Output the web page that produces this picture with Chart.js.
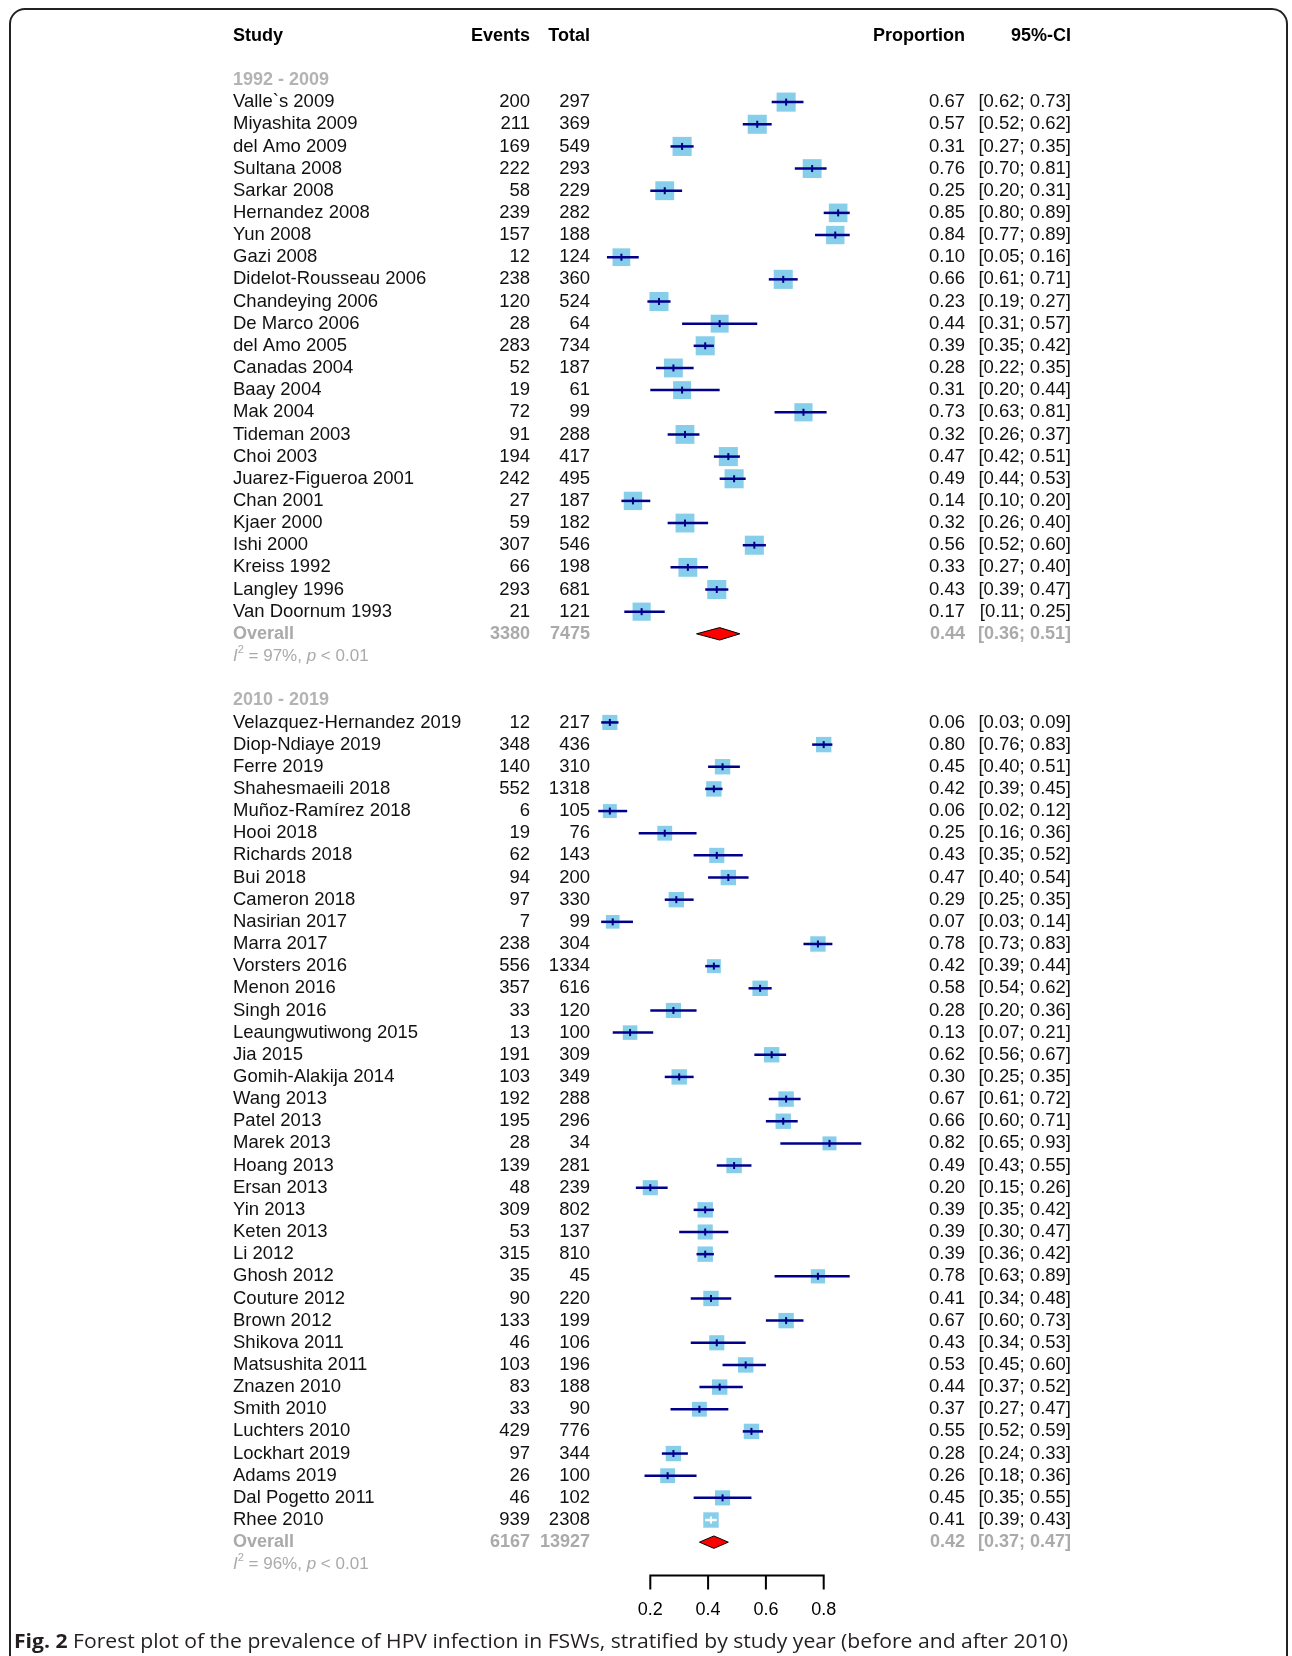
<!DOCTYPE html>
<html>
<head>
<meta charset="utf-8">
<title>Forest plot</title>
<script src="https://cdn.jsdelivr.net/npm/chart.js@4.4.0/dist/chart.umd.min.js"></script>
<style>
  html, body { margin: 0; padding: 0; background: #fff; }
  #wrap { position: relative; width: 1292px; height: 1656px; overflow: hidden; }
  #forest { position: absolute; left: 0; top: 0; }
  #frame { position: absolute; left: 9px; top: 8px; width: 1275px; height: 1720px; border: 2px solid #222; border-radius: 16px; pointer-events: none; }
  #caption { position: absolute; left: 14px; top: 1628px; display: inline-block; font-family: 'Open Sans', sans-serif; font-size: 20px; line-height: 26px; color: #231f20; white-space: nowrap; transform-origin: 0 50%; }
</style>
</head>
<body>
<div id="wrap">
  <canvas id="forest" width="1292" height="1656"></canvas>
  <div id="frame"></div>
  <div id="caption"><b>Fig. 2</b> Forest plot of the prevalence of HPV infection in FSWs, stratified by study year (before and after 2010)</div>
</div>
<script>
// ---- data: 1992 - 2009
const studies1 = ['Valle`s 2009', 'Miyashita 2009', 'del Amo 2009', 'Sultana 2008', 'Sarkar 2008', 'Hernandez 2008',
  'Yun 2008', 'Gazi 2008', 'Didelot-Rousseau 2006', 'Chandeying 2006', 'De Marco 2006', 'del Amo 2005',
  'Canadas 2004', 'Baay 2004', 'Mak 2004', 'Tideman 2003', 'Choi 2003', 'Juarez-Figueroa 2001',
  'Chan 2001', 'Kjaer 2000', 'Ishi 2000', 'Kreiss 1992', 'Langley 1996', 'Van Doornum 1993'];
const events1 = [200, 211, 169, 222, 58, 239, 157, 12, 238, 120, 28, 283, 52, 19, 72, 91, 194, 242, 27, 59, 307, 66, 293, 21];
const totals1 = [297, 369, 549, 293, 229, 282, 188, 124, 360, 524, 64, 734, 187, 61, 99, 288, 417, 495, 187, 182, 546, 198, 681, 121];
const prop1 = [0.67, 0.57, 0.31, 0.76, 0.25, 0.85, 0.84, 0.10, 0.66, 0.23, 0.44, 0.39, 0.28, 0.31, 0.73, 0.32, 0.47, 0.49, 0.14, 0.32, 0.56, 0.33, 0.43, 0.17];
const lower1 = [0.62, 0.52, 0.27, 0.70, 0.20, 0.80, 0.77, 0.05, 0.61, 0.19, 0.31, 0.35, 0.22, 0.20, 0.63, 0.26, 0.42, 0.44, 0.10, 0.26, 0.52, 0.27, 0.39, 0.11];
const upper1 = [0.73, 0.62, 0.35, 0.81, 0.31, 0.89, 0.89, 0.16, 0.71, 0.27, 0.57, 0.42, 0.35, 0.44, 0.81, 0.37, 0.51, 0.53, 0.20, 0.40, 0.60, 0.40, 0.47, 0.25];
const weight1 = [4.3, 4.3, 4.3, 4.2, 4.2, 4.1, 4.0, 3.7, 4.3, 4.3, 3.8, 4.3, 4.2, 3.8, 3.9, 4.2, 4.3, 4.3, 4.0, 4.2, 4.3, 4.2, 4.3, 3.9];

// ---- data: 2010 - 2019
const studies2 = ['Velazquez-Hernandez 2019', 'Diop-Ndiaye 2019', 'Ferre 2019', 'Shahesmaeili 2018', 'Muñoz-Ramírez 2018',
  'Hooi 2018', 'Richards 2018', 'Bui 2018', 'Cameron 2018', 'Nasirian 2017', 'Marra 2017', 'Vorsters 2016',
  'Menon 2016', 'Singh 2016', 'Leaungwutiwong 2015', 'Jia 2015', 'Gomih-Alakija 2014', 'Wang 2013', 'Patel 2013',
  'Marek 2013', 'Hoang 2013', 'Ersan 2013', 'Yin 2013', 'Keten 2013', 'Li 2012', 'Ghosh 2012', 'Couture 2012',
  'Brown 2012', 'Shikova 2011', 'Matsushita 2011', 'Znazen 2010', 'Smith 2010', 'Luchters 2010', 'Lockhart 2019',
  'Adams 2019', 'Dal Pogetto 2011', 'Rhee 2010'];
const events2 = [12, 348, 140, 552, 6, 19, 62, 94, 97, 7, 238, 556, 357, 33, 13, 191, 103, 192, 195, 28, 139, 48, 309, 53,
  315, 35, 90, 133, 46, 103, 83, 33, 429, 97, 26, 46, 939];
const totals2 = [217, 436, 310, 1318, 105, 76, 143, 200, 330, 99, 304, 1334, 616, 120, 100, 309, 349, 288, 296, 34, 281,
  239, 802, 137, 810, 45, 220, 199, 106, 196, 188, 90, 776, 344, 100, 102, 2308];
const prop2 = [0.06, 0.80, 0.45, 0.42, 0.06, 0.25, 0.43, 0.47, 0.29, 0.07, 0.78, 0.42, 0.58, 0.28, 0.13, 0.62, 0.30, 0.67,
  0.66, 0.82, 0.49, 0.20, 0.39, 0.39, 0.39, 0.78, 0.41, 0.67, 0.43, 0.53, 0.44, 0.37, 0.55, 0.28, 0.26, 0.45, 0.41];
const lower2 = [0.03, 0.76, 0.40, 0.39, 0.02, 0.16, 0.35, 0.40, 0.25, 0.03, 0.73, 0.39, 0.54, 0.20, 0.07, 0.56, 0.25, 0.61,
  0.60, 0.65, 0.43, 0.15, 0.35, 0.30, 0.36, 0.63, 0.34, 0.60, 0.34, 0.45, 0.37, 0.27, 0.52, 0.24, 0.18, 0.35, 0.39];
const upper2 = [0.09, 0.83, 0.51, 0.45, 0.12, 0.36, 0.52, 0.54, 0.35, 0.14, 0.83, 0.44, 0.62, 0.36, 0.21, 0.67, 0.35, 0.72,
  0.71, 0.93, 0.55, 0.26, 0.42, 0.47, 0.42, 0.89, 0.48, 0.73, 0.53, 0.60, 0.52, 0.47, 0.59, 0.33, 0.36, 0.55, 0.43];
const weight2 = [2.7, 2.8, 2.8, 2.8, 2.3, 2.6, 2.7, 2.8, 2.8, 2.2, 2.8, 2.3, 2.8, 2.7, 2.5, 2.8, 2.8, 2.8, 2.8, 2.3, 2.8,
  2.7, 2.8, 2.7, 2.8, 2.4, 2.8, 2.8, 2.7, 2.8, 2.8, 2.6, 2.8, 2.8, 2.6, 2.7, 2.8];

// ---- subgroup summaries
const groupLabels = ['1992 - 2009', '2010 - 2019'];
const overallEvents = [3380, 6167];
const overallTotals = [7475, 13927];
const overallProp = [0.44, 0.42];
const overallLower = [0.36, 0.37];
const overallUpper = [0.51, 0.47];
const hetI2 = ['97%', '96%'];
const hetP = ['< 0.01', '< 0.01'];

const axisTicks = [0.2, 0.4, 0.6, 0.8];

// ---- layout / style constants
const FONT = '"Liberation Sans", Arial, Helvetica, sans-serif';
const NAVY = '#00008B';
const SQUARE = '#87CEEB';
const GREY = '#aaaaaa';
const COL_STUDY = 233, COL_EVENTS = 530, COL_TOTAL = 590, COL_PROP = 965, COL_CI = 1071;
const DIAMOND_H = 0.28;
const AXIS_ROW = 69.5;
const sideOf = w => 9.2 * Math.sqrt(w);

// build rows
const groups = [
  { studies: studies1, events: events1, totals: totals1, prop: prop1, lower: lower1, upper: upper1, weight: weight1 },
  { studies: studies2, events: events2, totals: totals2, prop: prop2, lower: lower2, upper: upper2, weight: weight2 }
];

const textRows = [];
const squarePts = [];
const ciPts = [];
const diamonds = [];
let r = 2;
groups.forEach((g, gi) => {
  textRows.push({ kind: 'group', row: r, label: groupLabels[gi] });
  r++;
  g.studies.forEach((name, i) => {
    const pt = { x: g.prop[i], y: r, lo: g.lower[i], hi: g.upper[i], w: g.weight[i] };
    squarePts.push(pt);
    ciPts.push({ x: g.lower[i], y: r, ref: pt }, { x: g.upper[i], y: r, ref: pt }, { x: NaN, y: null, ref: pt });
    textRows.push({ kind: 'study', row: r, name: name, ev: g.events[i], tot: g.totals[i], p: g.prop[i], lo: g.lower[i], hi: g.upper[i] });
    r++;
  });
  diamonds.push([
    { x: overallLower[gi], y: r },
    { x: overallProp[gi], y: r - DIAMOND_H },
    { x: overallUpper[gi], y: r },
    { x: overallProp[gi], y: r + DIAMOND_H },
    { x: overallLower[gi], y: r }
  ]);
  textRows.push({ kind: 'overall', row: r, ev: overallEvents[gi], tot: overallTotals[gi], p: overallProp[gi], lo: overallLower[gi], hi: overallUpper[gi] });
  r++;
  textRows.push({ kind: 'het', row: r, i2: hetI2[gi], p: hetP[gi] });
  r += 2;
});

// is the CI fully hidden by the square? then it is drawn white
function inside(chart, pt) {
  const xs = chart.scales.x;
  return (xs.getPixelForValue(pt.hi) - xs.getPixelForValue(pt.lo)) < sideOf(pt.w);
}

const f2 = v => v.toFixed(2);

const forestText = {
  id: 'forestText',
  afterDraw(chart) {
    const ctx = chart.ctx;
    const ys = chart.scales.y;
    const xs = chart.scales.x;
    ctx.save();
    ctx.textBaseline = 'middle';
    const put = (s, x, y, align, font, color) => {
      ctx.font = font; ctx.fillStyle = color; ctx.textAlign = align; ctx.fillText(s, x, y);
    };
    const bold = 'bold 18px ' + FONT, norm = '18.5px ' + FONT;

    // header
    const yh = ys.getPixelForValue(0);
    put('Study', COL_STUDY, yh, 'left', bold, '#000');
    put('Events', COL_EVENTS, yh, 'right', bold, '#000');
    put('Total', COL_TOTAL, yh, 'right', bold, '#000');
    put('Proportion', COL_PROP, yh, 'right', bold, '#000');
    put('95%-CI', COL_CI, yh, 'right', bold, '#000');

    textRows.forEach(t => {
      const y = ys.getPixelForValue(t.row);
      if (t.kind === 'group') {
        put(t.label, COL_STUDY, y, 'left', bold, '#b3b3b3');
      } else if (t.kind === 'study' || t.kind === 'overall') {
        const font = t.kind === 'study' ? norm : bold;
        const col = t.kind === 'study' ? '#111' : GREY;
        put(t.kind === 'study' ? t.name : 'Overall', COL_STUDY, y, 'left', font, col);
        put(String(t.ev), COL_EVENTS, y, 'right', font, col);
        put(String(t.tot), COL_TOTAL, y, 'right', font, col);
        put(f2(t.p), COL_PROP, y, 'right', font, col);
        put('[' + f2(t.lo) + '; ' + f2(t.hi) + ']', COL_CI, y, 'right', font, col);
      } else if (t.kind === 'het') {
        let x = COL_STUDY;
        const seg = (s, font, dy) => {
          ctx.font = font; ctx.fillStyle = GREY; ctx.textAlign = 'left';
          ctx.fillText(s, x, y + (dy || 0));
          x += ctx.measureText(s).width;
        };
        seg('I', 'italic 17px ' + FONT);
        seg('2', '11px ' + FONT, -6);
        seg(' = ' + t.i2 + ', ', '17px ' + FONT);
        seg('p', 'italic 17px ' + FONT);
        seg(' ' + t.p, '17px ' + FONT);
      }
    });

    // x axis bracket, from the x scale
    const ya = ys.getPixelForValue(AXIS_ROW);
    const x0 = xs.getPixelForValue(axisTicks[0]);
    const x1 = xs.getPixelForValue(axisTicks[axisTicks.length - 1]);
    ctx.strokeStyle = '#000';
    ctx.lineWidth = 2;
    ctx.lineCap = 'butt';
    ctx.beginPath();
    ctx.moveTo(x0 - 1, ya);
    ctx.lineTo(x1 + 1, ya);
    axisTicks.forEach(v => {
      const px = xs.getPixelForValue(v);
      ctx.moveTo(px, ya);
      ctx.lineTo(px, ya + 14);
    });
    ctx.stroke();
    axisTicks.forEach(v => {
      put(v.toFixed(1), xs.getPixelForValue(v), ya + 35, 'center', '18px ' + FONT, '#000');
    });
    ctx.restore();
  }
};

const datasets = [
  {
    label: 'weights',
    data: squarePts,
    order: 4,
    clip: false,
    pointStyle: 'rect',
    pointRadius: c => c.raw ? sideOf(c.raw.w) / Math.SQRT2 : 0,
    pointBackgroundColor: SQUARE,
    pointBorderWidth: 0
  },
  {
    label: 'ci',
    data: ciPts,
    order: 3,
    clip: false,
    showLine: true,
    spanGaps: false,
    pointRadius: 0,
    borderColor: NAVY,
    borderWidth: 2.5,
    segment: {
      borderColor: c => {
        const p = ciPts[c.p0DataIndex];
        return p && inside(c.chart, p.ref) ? '#ffffff' : NAVY;
      }
    }
  },
  {
    label: 'estimate',
    data: squarePts,
    order: 2,
    clip: false,
    pointStyle: 'line',
    pointRotation: 90,
    pointRadius: 3.5,
    pointBorderWidth: 2,
    pointBorderColor: c => c.raw && inside(c.chart, c.raw) ? '#ffffff' : NAVY
  }
];
diamonds.forEach((d, i) => {
  datasets.push({
    type: 'line',
    label: 'overall ' + (i + 1),
    data: d,
    order: 1,
    clip: false,
    fill: 'shape',
    tension: 0,
    pointRadius: 0,
    borderColor: '#000',
    borderWidth: 1,
    backgroundColor: '#ff0000'
  });
});

new Chart(document.getElementById('forest'), {
  type: 'scatter',
  data: { datasets: datasets },
  options: {
    responsive: false,
    animation: false,
    events: [],
    layout: { padding: { left: 592.5, right: 410.5, top: 7.5, bottom: 80.6 } },
    plugins: { legend: { display: false }, tooltip: { enabled: false } },
    scales: {
      x: { type: 'linear', min: 0, max: 1, display: false },
      y: { type: 'linear', reverse: true, min: -1, max: AXIS_ROW, display: false }
    }
  },
  plugins: [forestText]
});

// squeeze the caption to the width of the printed one
const cap = document.getElementById('caption');
const cw = cap.getBoundingClientRect().width;
cap.style.transform = 'scaleX(' + (1054 / cw) + ')';
</script>
</body>
</html>
